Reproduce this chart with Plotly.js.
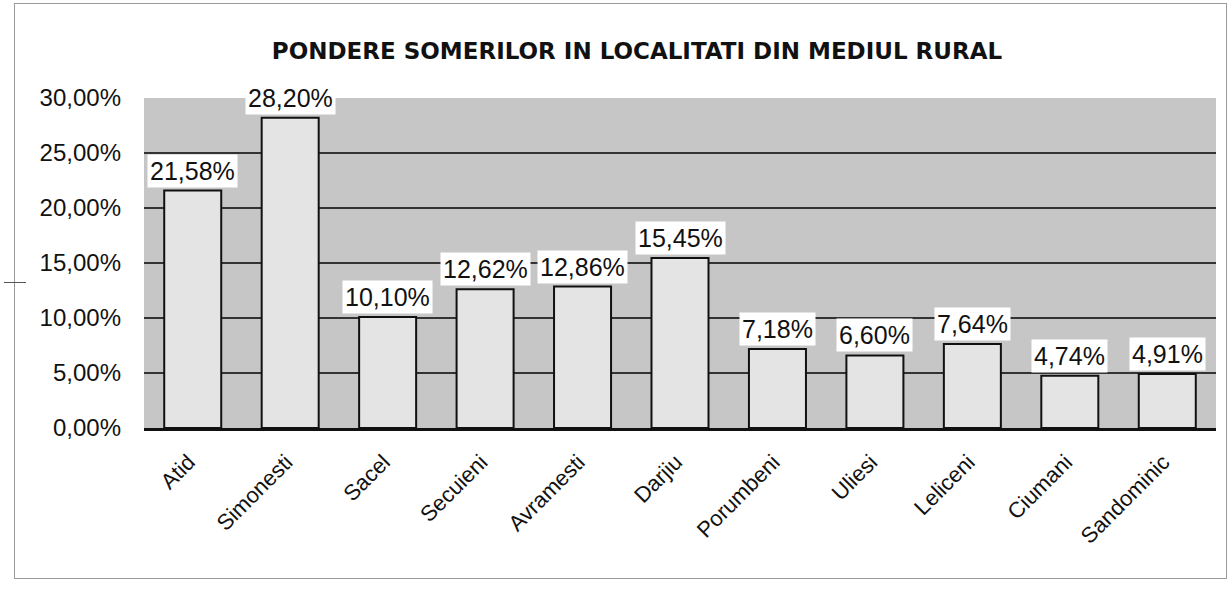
<!DOCTYPE html>
<html>
<head>
<meta charset="utf-8">
<script src="https://cdn.plot.ly/plotly-3.0.1.min.js"></script>
<style>
  body { margin: 0; background: #fff; }
  #chart { width: 1232px; height: 591px; position: relative; }
  #frame { position: absolute; left: 14px; top: 3px; width: 1211px; height: 574px;
           border: 1px solid #9a9a9a; pointer-events: none; }
  #nick { position: absolute; left: 4px; top: 282px; width: 22px; height: 0;
          border-top: 1px solid #555; pointer-events: none; }
</style>
</head>
<body>
<div id="chart"></div>
<div id="frame"></div>
<div id="nick"></div>
<script>
  // localitati si ponderea somerilor (%)
  let localitati = ['Atid', 'Simonesti', 'Sacel', 'Secuieni', 'Avramesti', 'Darjiu',
                    'Porumbeni', 'Uliesi', 'Leliceni', 'Ciumani', 'Sandominic'];
  let pondere = [21.58, 28.20, 10.10, 12.62, 12.86, 15.45, 7.18, 6.60, 7.64, 4.74, 4.91];
  let yTicks = [0, 5, 10, 15, 20, 25, 30];

  function eticheta(v) {
    return v.toFixed(2).replace('.', ',') + '%';
  }

  let trace = {
    x: localitati,
    y: pondere,
    type: 'bar',
    marker: { color: '#e4e4e4', line: { color: '#111', width: 2 } },
    hoverinfo: 'skip'
  };

  // etichete albe deasupra coloanelor
  let annotations = localitati.map(function (loc, i) {
    return {
      x: loc, y: pondere[i], xref: 'x', yref: 'y',
      text: eticheta(pondere[i]),
      showarrow: false, yanchor: 'bottom', yshift: 3,
      bgcolor: '#ffffff', borderpad: 2,
      font: { family: 'Liberation Sans, Arial', size: 25, color: '#111' }
    };
  });

  let layout = {
    width: 1232, height: 591,
    margin: { l: 144, r: 16, t: 98, b: 163 },
    paper_bgcolor: '#ffffff',
    plot_bgcolor: '#c6c6c6',
    bargap: 0.415,
    showlegend: false,
    title: {
      text: 'PONDERE SOMERILOR IN LOCALITATI DIN MEDIUL RURAL',
      x: 637 / 1232, xref: 'container', xanchor: 'center',
      y: 1 - 51 / 591, yref: 'container', yanchor: 'middle',
      font: { family: 'DejaVu Sans', size: 23, color: '#111', weight: 'bold' }
    },
    xaxis: {
      type: 'category',
      tickangle: -45,
      tickfont: { family: 'Liberation Sans, Arial', size: 22, color: '#111' },
      ticklabelstandoff: 10,
      ticklabelshift: -4,
      showline: true, linecolor: '#111', linewidth: 2.5,
      ticks: ''
    },
    yaxis: {
      range: [0, 30],
      tickvals: yTicks,
      ticktext: yTicks.map(eticheta),
      tickfont: { family: 'Liberation Sans, Arial', size: 24, color: '#111' },
      ticklabelstandoff: 22,
      gridcolor: '#333333', gridwidth: 1.5,
      zeroline: false,
      showline: false,
      ticks: ''
    },
    annotations: annotations
  };

  Plotly.newPlot('chart', [trace], layout, { displayModeBar: false, staticPlot: true });
</script>
</body>
</html>
